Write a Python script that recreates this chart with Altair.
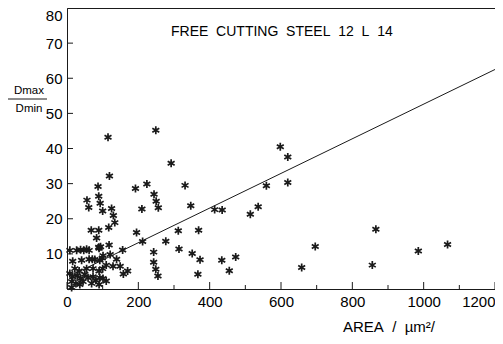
import altair as alt
import pandas as pd

# ---- data ----
area = [115, 249, 292, 119, 224, 87, 331, 192, 244, 89, 56, 250, 93, 347, 61, 125, 256, 210, 100,
        414, 435, 130, 134, 117, 68, 89, 195, 312, 369, 83, 212, 277, 118, 89, 314, 156, 243, 351,
        473, 373, 434, 139, 243, 129, 149, 249, 170, 158, 367, 455, 255,
        598, 619, 619, 559, 536, 514, 866, 696, 1067, 985, 658, 856,
        8, 27, 38, 47, 55, 62, 90, 94, 121, 110, 16, 41, 62, 71, 78, 92, 99, 101,
        22, 34, 55, 73, 90, 100, 8, 16, 29, 38, 50, 59, 73, 81, 92, 101, 110,
        13, 25, 36, 45, 69, 90, 13]
ratio = [43.2, 45.2, 35.8, 32.2, 29.9, 29.2, 29.5, 28.6, 27.0, 26.4, 25.3, 25.0, 24.4, 23.7, 23.2,
         22.9, 23.1, 22.8, 22.2, 22.6, 22.5, 20.9, 18.9, 17.5, 16.7, 16.7, 16.1, 16.6, 16.7, 14.5,
         13.5, 13.6, 12.5, 11.9, 11.4, 11.1, 10.5, 10.1, 9.1, 8.3, 8.2, 8.5, 7.6, 6.5, 6.5, 5.6,
         5.1, 4.3, 4.2, 5.2, 3.7,
         40.5, 37.6, 30.3, 29.4, 23.4, 21.3, 17.0, 12.1, 12.7, 10.8, 6.1, 6.8,
         11.0, 11.0, 11.2, 11.0, 11.3, 11.0, 11.6, 12.0, 9.8, 6.8, 7.9, 8.2, 8.5, 8.5, 8.4, 8.2, 8.8, 9.5,
         5.8, 5.1, 5.8, 5.8, 5.1, 5.8, 4.4, 3.5, 3.8, 3.0, 4.2, 3.2, 3.5, 2.5, 3.2, 3.0, 2.3,
         2.1, 1.6, 1.3, 2.1, 1.6, 1.3, 0.4]

line_area = [20, 1200]
line_ratio = [4.3, 62.5]

x_major = [0, 200, 400, 600, 800, 1000, 1200]
x_minor = [100, 300, 500, 700, 900, 1100]
y_labels = [10, 20, 30, 40, 50, 60, 70, 80]
y_ticks = [10, 20, 30, 40, 50, 60, 70]

NB = "\u00a0"
title_text = f"FREE{NB} CUTTING{NB} STEEL{NB} 12{NB} L{NB} 14"
x_title = f"AREA{NB} /{NB} µm²/"
y_num = "Dmax"
y_den = "Dmin"

# ---- chart ----
W, H = 428, 281
FONT = "Liberation Sans"
INK = "#1a1a1a"
xs = alt.Scale(domain=[0, 1200], nice=False, zero=False)
ys = alt.Scale(domain=[0, 80], nice=False, zero=False)
x_axis = alt.Axis(values=x_major, format="d", ticks=False, grid=False, labelFontSize=15,
                  labelPadding=5, labelColor="black", domainColor=INK, labelFont=FONT,
                  labelFlush=False, title=None,
                  labelAlign={"condition": {"test": "datum.value === 1200", "value": "right"},
                              "value": "center"})
y_axis = alt.Axis(values=y_labels, ticks=False, grid=False, labelFontSize=15, labelPadding=5,
                  labelColor="black", domainColor=INK, labelFont=FONT, labelFlush=True,
                  title=None)
star = "M0,-1L0,1M-0.87,-0.5L0.87,0.5M-0.87,0.5L0.87,-0.5"

points = alt.Chart(pd.DataFrame({"area": area, "ratio": ratio})).mark_point(
    shape=star, size=64, filled=False, stroke=INK, strokeWidth=1.7, opacity=1
).encode(
    x=alt.X("area:Q", scale=xs, axis=x_axis),
    y=alt.Y("ratio:Q", scale=ys, axis=y_axis),
)

fit = alt.Chart(pd.DataFrame({"area": line_area, "ratio": line_ratio})).mark_line(
    color=INK, strokeWidth=1, clip=True
).encode(
    x=alt.X("area:Q", scale=xs, axis=x_axis),
    y=alt.Y("ratio:Q", scale=ys, axis=y_axis),
)

xt_major = alt.Chart(pd.DataFrame({"area": x_major})).mark_rule(color=INK, strokeWidth=1).encode(
    x=alt.X("area:Q", scale=xs, axis=x_axis), y=alt.value(H), y2=alt.value(H - 7))
xt_minor = alt.Chart(pd.DataFrame({"area": x_minor})).mark_rule(color=INK, strokeWidth=1).encode(
    x=alt.X("area:Q", scale=xs, axis=x_axis), y=alt.value(H), y2=alt.value(H - 4))
yt = alt.Chart(pd.DataFrame({"ratio": y_ticks})).mark_rule(color=INK, strokeWidth=1).encode(
    y=alt.Y("ratio:Q", scale=ys, axis=y_axis), x=alt.value(0), x2=alt.value(6))

ttl = alt.Chart(pd.DataFrame({"t": [title_text]})).mark_text(
    align="left", baseline="middle", fontSize=14, font=FONT, color="black"
).encode(text="t:N", x=alt.value(104), y=alt.value(24))

xlab = alt.Chart(pd.DataFrame({"t": [x_title]})).mark_text(
    align="center", baseline="middle", fontSize=15, font=FONT, color="black"
).encode(text="t:N", x=alt.value(322), y=alt.value(319))

ynum = alt.Chart(pd.DataFrame({"t": [y_num]})).mark_text(
    align="center", baseline="middle", fontSize=11.5, font=FONT, color="black"
).encode(text="t:N", x=alt.value(-38), y=alt.value(83))
yden = alt.Chart(pd.DataFrame({"t": [y_den]})).mark_text(
    align="center", baseline="middle", fontSize=11.5, font=FONT, color="black"
).encode(text="t:N", x=alt.value(-38), y=alt.value(101))
ybar = alt.Chart(pd.DataFrame({"t": [0]})).mark_rule(color=INK, strokeWidth=1).encode(
    x=alt.value(-61), x2=alt.value(-20), y=alt.value(91))

chart = alt.layer(fit, xt_major, xt_minor, yt, points, ttl, xlab, ynum, yden, ybar).properties(
    width=W, height=H,
    autosize=alt.AutoSizeParams(type="none"),
    padding={"left": 59, "top": 0, "right": 0, "bottom": 47},
).configure(font=FONT, background="white").configure_view(stroke=INK, strokeWidth=1)

chart.save("out.html", embed_options={"renderer": "svg", "actions": False})
